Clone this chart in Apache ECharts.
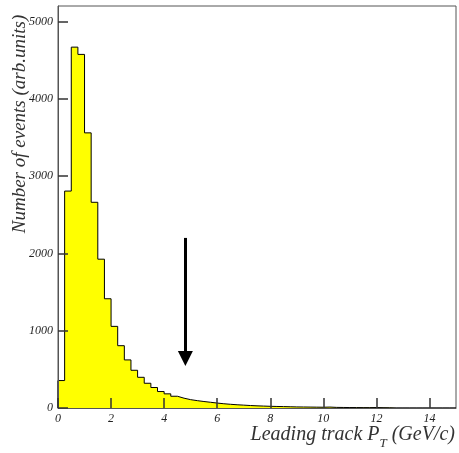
<!DOCTYPE html>
<html>
<head>
<meta charset="utf-8">
<script src="https://cdn.jsdelivr.net/npm/echarts@6/dist/echarts.min.js"></script>
<style>html,body{margin:0;padding:0;background:#fff;}#c{width:459px;height:453px;}</style>
</head>
<body>
<div id="c"></div>
<script>
// Histogram: leading track pT, bins of 0.25 GeV/c starting at 0
var binStart = 0;
var binWidth = 0.25;
var counts = [
  355, 2806, 4668, 4574, 3559, 2661, 1925, 1413,
  1056, 806, 622, 488, 397, 320, 265, 213,
  183, 152, 127, 108, 95, 84, 74, 64,
  55, 48, 42, 37, 32, 28, 25, 22,
  20, 18, 16, 14, 13, 12, 11, 10,
  12, 8, 7, 6, 6, 5, 5, 6,
  4, 3, 0, 0, 0, 0, 0, 0,
  0, 0, 0, 0
];
// Arrow marker (x position, from / to y values)
var arrowX = 4.8;
var arrowFrom = 2200;
var arrowTo = 640;
var xTicks = [0, 2, 4, 6, 8, 10, 12, 14];
var yTicks = [0, 1000, 2000, 3000, 4000, 5000];

var stepData = [[binStart, 0]];
for (var i = 0; i < counts.length; i++) {
  stepData.push([binStart + i * binWidth, counts[i]]);
}
stepData.push([binStart + counts.length * binWidth, counts[counts.length - 1]]);

var font = '"Liberation Serif", "DejaVu Serif", serif';
var chart = echarts.init(document.getElementById('c'), null, {renderer: 'canvas'});
chart.setOption({
  animation: false,
  backgroundColor: '#fff',
  grid: {left: 58, top: 6, right: 3, bottom: 45, show: true, borderColor: '#555', borderWidth: 1, containLabel: false},
  xAxis: {
    type: 'value', min: 0, max: 15, interval: 2, z: 3,
    axisLine: {show: true, lineStyle: {color: '#555', width: 1}},
    axisTick: {show: true, inside: true, length: 10, lineStyle: {color: '#333', width: 1.5}},
    axisLabel: {showMaxLabel: false, margin: 5, fontFamily: font, fontStyle: 'italic', fontSize: 12, color: '#222',
      formatter: function (v) { return xTicks.indexOf(v) >= 0 ? String(v) : ''; }},
    splitLine: {show: false}
  },
  yAxis: {
    type: 'value', min: 0, max: 5200, interval: 1000, z: 3,
    axisLine: {show: true, lineStyle: {color: '#555', width: 1}},
    axisTick: {show: true, inside: true, length: 10, lineStyle: {color: '#333', width: 1.5}},
    axisLabel: {showMaxLabel: false, margin: 5, fontFamily: font, fontStyle: 'italic', fontSize: 12, color: '#222',
      formatter: function (v) { return yTicks.indexOf(v) >= 0 ? String(v) : ''; }},
    splitLine: {show: false}
  },
  series: [{
    type: 'line',
    step: 'end',
    data: stepData,
    showSymbol: false,
    symbol: 'none',
    lineStyle: {color: '#000', width: 1},
    areaStyle: {color: '#ffff00', opacity: 1},
    z: 2,
    markLine: {
      silent: true,
      symbol: ['none', 'triangle'],
      symbolSize: 15,
      label: {show: false},
      lineStyle: {color: '#000', width: 3, type: 'solid'},
      itemStyle: {color: '#000'},
      data: [[{coord: [arrowX, arrowFrom]}, {coord: [arrowX, arrowTo]}]]
    }
  }],
  graphic: [
    {
      type: 'text', x: 20, y: 124, rotation: Math.PI / 2,
      style: {text: 'Number of events (arb.units)', font: 'italic 19px ' + font, fill: '#333', align: 'center', verticalAlign: 'middle'}
    },
    {
      type: 'text', right: 4, top: 425,
      style: {
        text: '{a|Leading track P}{b|T}{a| (GeV/c)}',
        fill: '#333',
        rich: {
          a: {fontFamily: font, fontStyle: 'italic', fontSize: 20, fill: '#333', verticalAlign: 'top', height: 26},
          b: {fontFamily: font, fontStyle: 'italic', fontSize: 13, fill: '#333', verticalAlign: 'top', padding: [9, 0, 0, 0], height: 26}
        }
      }
    }
  ]
});
</script>
</body>
</html>
